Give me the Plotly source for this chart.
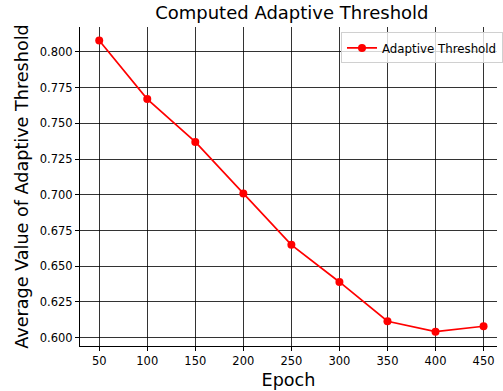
import plotly.graph_objects as go

epochs = [50, 100, 150, 200, 250, 300, 350, 400, 450]
threshold = [0.808, 0.767, 0.737, 0.701, 0.665, 0.639, 0.6115, 0.6042, 0.608]
x_ticks = [50, 100, 150, 200, 250, 300, 350, 400, 450]
y_ticks = [0.600, 0.625, 0.650, 0.675, 0.700, 0.725, 0.750, 0.775, 0.800]

FONT = "DejaVu Sans"

fig = go.Figure()
fig.add_trace(go.Scatter(
    x=epochs, y=threshold, mode="lines+markers", name="Adaptive Threshold",
    line=dict(color="#ff0000", width=1.7),
    marker=dict(color="#ff0000", size=8),
))

fig.update_layout(
    width=503, height=391,
    margin=dict(l=80, r=0, t=26.67, b=45),
    paper_bgcolor="white", plot_bgcolor="white",
    font=dict(family=FONT, color="black", size=11.5),
    title=dict(text="Computed Adaptive Threshold", x=0.508, xref="paper",
               xanchor="center", y=1 - 12.5 / 391, yref="container", yanchor="middle",
               font=dict(size=18, family=FONT, color="black")),
    legend=dict(x=0.6265, y=0.983, xanchor="left", yanchor="top",
                bgcolor="rgba(255,255,255,0.8)", bordercolor="#d0d0d0", borderwidth=1,
                font=dict(size=11.8, family=FONT, color="black")),
    showlegend=True,
)
fig.update_xaxes(
    range=[30, 464], tickvals=x_ticks, ticks="outside", ticklen=4, tickcolor="black",
    showline=True, linecolor="black", linewidth=1, mirror=False,
    showgrid=True, gridcolor="rgba(0,0,0,0.8)", gridwidth=1, zeroline=False,
    title=dict(text="Epoch", font=dict(size=17.6, family=FONT, color="black"), standoff=6),
    tickfont=dict(size=11.5, family=FONT, color="black"),
)
fig.update_yaxes(
    range=[0.59417, 0.81748], tickvals=y_ticks, tickformat=".3f", ticks="outside",
    ticklen=4, tickcolor="black",
    showline=True, linecolor="black", linewidth=1, mirror=False,
    showgrid=True, gridcolor="rgba(0,0,0,0.8)", gridwidth=1, zeroline=False,
    title=dict(text="Average Value of Adaptive Threshold",
               font=dict(size=17.6, family=FONT, color="black"), standoff=6),
    tickfont=dict(size=11.5, family=FONT, color="black"),
)

fig.write_html("out.html")
